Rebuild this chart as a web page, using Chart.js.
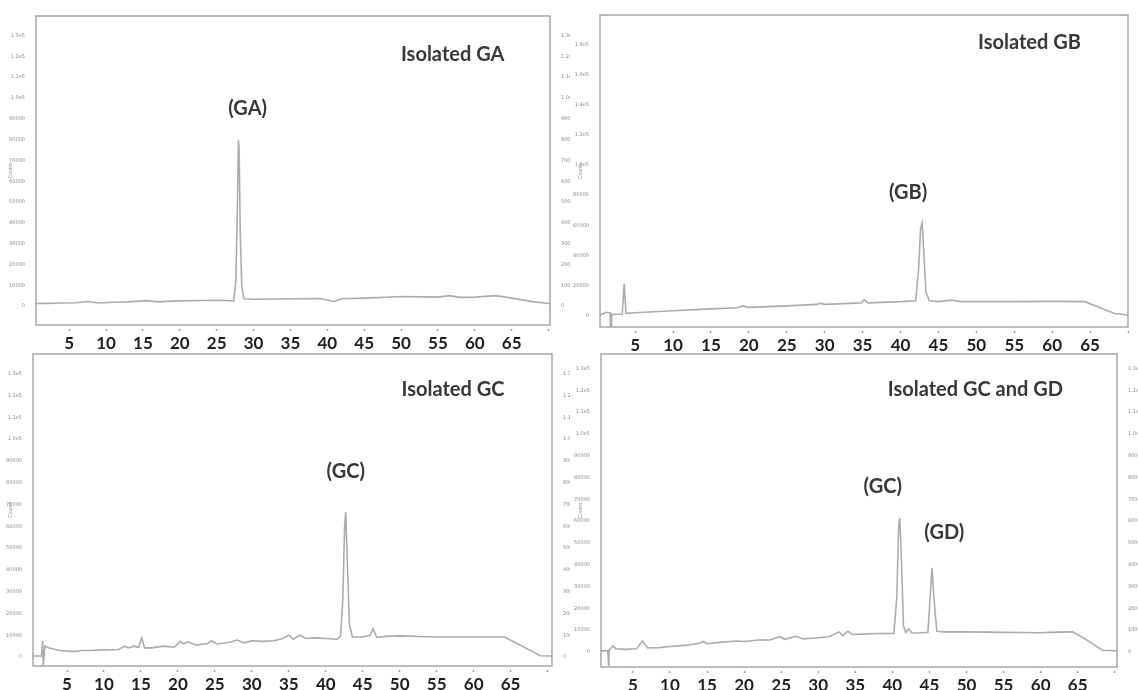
<!DOCTYPE html>
<html lang="en">
<head>
<meta charset="UTF-8">
<title>Isolated GA, GB, GC and GD chromatograms</title>
<script src="https://cdn.jsdelivr.net/npm/chart.js@4.4.1/dist/chart.umd.min.js"></script>
<style>
  body { margin: 0; background: #fff; }
  canvas { position: absolute; }
</style>
</head>
<body>
<canvas id="c1" width="570" height="357" style="left:0;top:0"></canvas>
<canvas id="c2" width="568" height="357" style="left:570px;top:0"></canvas>
<canvas id="c3" width="570" height="345" style="left:0;top:345px"></canvas>
<canvas id="c4" width="568" height="345" style="left:570px;top:345px"></canvas>
<script>
// retention time (min) / detector signal
const gaTime   = [0.5, 2, 4, 6, 7.5, 9, 11, 13, 15.5, 17, 20, 23, 25, 27.3, 27.6, 27.8, 27.95, 28.05, 28.2, 28.4, 28.7, 30, 33, 36, 39, 40.9, 42, 45, 48, 50, 53, 55, 56.6, 58, 60, 62.8, 64, 66, 68, 70.2];
const gaSignal = [0.12, 0.13, 0.15, 0.16, 0.22, 0.15, 0.18, 0.2, 0.26, 0.2, 0.25, 0.27, 0.28, 0.25, 1.2, 4.5, 7.98, 7.5, 3.5, 1.0, 0.35, 0.33, 0.34, 0.35, 0.36, 0.22, 0.35, 0.38, 0.42, 0.46, 0.44, 0.43, 0.5, 0.42, 0.43, 0.5, 0.44, 0.32, 0.2, 0.12];

const gbTime   = [0.37, 1.2, 1.7, 1.75, 1.85, 1.9, 3.3, 3.55, 3.8, 5, 10, 15, 18.5, 19.2, 20, 25, 29, 29.4, 30, 34.8, 35.2, 35.7, 40, 42.0, 42.4, 42.65, 42.85, 43.05, 43.35, 43.8, 45, 46.7, 48, 55, 60, 64.3, 66, 68.2, 70];
const gbSignal = [0.03, 0.12, 0.1, -0.35, -0.35, 0.05, 0.06, 1.05, 0.08, 0.1, 0.17, 0.23, 0.27, 0.33, 0.28, 0.33, 0.38, 0.42, 0.38, 0.43, 0.53, 0.43, 0.47, 0.5, 1.6, 2.9, 3.08, 2.2, 0.8, 0.5, 0.47, 0.52, 0.47, 0.47, 0.48, 0.47, 0.3, 0.08, 0.03];

const gcTime   = [0.4, 1.55, 1.7, 1.78, 1.85, 2.0, 2.6, 4, 6, 7, 8, 10, 12, 12.8, 13.3, 14, 14.7, 15.1, 15.5, 16.5, 18, 19.5, 20.3, 20.8, 21.3, 22.5, 24, 24.5, 25.3, 27, 28, 29, 30, 31.5, 33, 34.2, 35, 35.6, 36.5, 37.3, 38.5, 40, 41.5, 42.0, 42.3, 42.55, 42.7, 42.9, 43.2, 43.6, 45, 46.0, 46.4, 46.9, 48, 50, 55, 60, 64.2, 66, 68, 69, 70.6];
const gcSignal = [0.05, 0.05, 0.75, -0.4, -0.4, 0.5, 0.42, 0.3, 0.25, 0.3, 0.3, 0.33, 0.35, 0.5, 0.42, 0.5, 0.45, 0.88, 0.42, 0.42, 0.5, 0.45, 0.72, 0.6, 0.7, 0.55, 0.62, 0.75, 0.6, 0.68, 0.78, 0.65, 0.75, 0.72, 0.75, 0.85, 1.0, 0.82, 1.0, 0.85, 0.88, 0.85, 0.82, 0.95, 2.6, 6.0, 6.65, 4.5, 1.5, 0.92, 0.92, 1.0, 1.3, 0.9, 0.95, 0.97, 0.92, 0.92, 0.92, 0.6, 0.25, 0.06, 0.05];

const gcgdTime   = [0.7, 1.6, 1.75, 1.8, 2.0, 2.3, 2.7, 4, 5.5, 6.3, 7, 8.5, 10, 12, 14, 14.5, 15, 17, 19, 20, 22, 23.5, 24.8, 25.5, 27, 28, 30, 31.5, 32.8, 33.3, 34, 34.6, 36, 38, 40.2, 40.6, 40.85, 41.0, 41.2, 41.5, 41.8, 42.2, 42.6, 43.5, 44.8, 45.1, 45.35, 45.6, 46.0, 47, 50, 55, 60, 61, 64.3, 66, 68.3, 70.3];
const gcgdSignal = [0.05, 0.05, -0.65, 0.1, 0.15, 0.28, 0.15, 0.12, 0.15, 0.5, 0.18, 0.2, 0.25, 0.3, 0.4, 0.48, 0.38, 0.45, 0.5, 0.48, 0.55, 0.55, 0.7, 0.58, 0.72, 0.6, 0.65, 0.7, 0.92, 0.75, 0.95, 0.8, 0.82, 0.85, 0.85, 2.5, 5.8, 6.15, 4.5, 1.2, 0.9, 1.05, 0.88, 0.87, 0.9, 2.5, 3.86, 2.5, 0.95, 0.92, 0.92, 0.9, 0.88, 0.9, 0.92, 0.6, 0.08, 0.05];

const xTickValues = [5, 10, 15, 20, 25, 30, 35, 40, 45, 50, 55, 60, 65, 70];
const xTickLabels = ['5', '10', '15', '20', '25', '30', '35', '40', '45', '50', '55', '60', '65', ''];

const yTicks14  = [0, 1, 2, 3, 4, 5, 6, 7, 8, 9, 10, 11, 12, 13];
const yLabels14 = ['0', '10000', '20000', '30000', '40000', '50000', '60000', '70000', '80000', '90000', '1.0e5', '1.1e5', '1.2e5', '1.3e5'];
const yTicks10  = [0, 1, 2, 3, 4, 5, 6, 7, 8, 9];
const yLabels10 = ['0', '20000', '40000', '60000', '80000', '1.0e5', '1.2e5', '1.4e5', '1.6e5', '1.8e5'];

const panels = [
  { id: 'c1', time: gaTime, signal: gaSignal, xMin: 0.5, xMax: 70.2, yMin: -0.91, yMax: 13.94,
    yTicks: yTicks14, yLabels: yLabels14, area: { left: 36, right: 550, top: 16, bottom: 325 },
    notes: [{ text: 'Isolated GA', x: 57, y: 12.07 }, { text: '(GA)', x: 29.2, y: 9.47 }] },
  { id: 'c2', time: gbTime, signal: gbSignal, xMin: 0.37, xMax: 70, yMin: -0.37, yMax: 9.97,
    yTicks: yTicks10, yLabels: yLabels10, area: { left: 30, right: 558, top: 15, bottom: 327 },
    notes: [{ text: 'Isolated GB', x: 57, y: 9.07 }, { text: '(GB)', x: 41, y: 4.1 }] },
  { id: 'c3', time: gcTime, signal: gcSignal, xMin: 0.4, xMax: 70.6, yMin: -0.41, yMax: 13.9,
    yTicks: yTicks14, yLabels: yLabels14, area: { left: 33, right: 552, top: 9, bottom: 321 },
    notes: [{ text: 'Isolated GC', x: 57.2, y: 12.25 }, { text: '(GC)', x: 42.7, y: 8.49 }] },
  { id: 'c4', time: gcgdTime, signal: gcgdSignal, xMin: 0.7, xMax: 70.3, yMin: -0.69, yMax: 13.67,
    yTicks: yTicks14, yLabels: yLabels14, area: { left: 31, right: 547, top: 9, bottom: 322 },
    notes: [{ text: 'Isolated GC and GD', x: 51.2, y: 12.06 }, { text: '(GC)', x: 38.7, y: 7.6 }, { text: '(GD)', x: 47, y: 5.5 }] }
];

const framePlugin = {
  id: 'frame',
  beforeDatasetsDraw(chart) {
    const a = chart.chartArea, ctx = chart.ctx;
    ctx.save();
    ctx.strokeStyle = '#a6a6a6';
    ctx.lineWidth = 1.5;
    ctx.strokeRect(a.left, a.top, a.right - a.left, a.bottom - a.top);
    ctx.restore();
  },
  afterDraw(chart, args, opts) {
    const ctx = chart.ctx;
    ctx.save();
    ctx.fillStyle = '#383838';
    ctx.font = 'bold 20px Lato';
    ctx.textAlign = 'center';
    ctx.textBaseline = 'middle';
    opts.notes.forEach(n => {
      ctx.fillText(n.text, chart.scales.x.getPixelForValue(n.x), chart.scales.y.getPixelForValue(n.y));
    });
    ctx.restore();
  }
};

panels.forEach(p => {
  const canvas = document.getElementById(p.id);
  const W = canvas.width, H = canvas.height;
  const tinyTicks = {
    padding: 3, color: '#8a8a8a', autoSkip: false,
    font: { family: 'DejaVu Sans', size: 5 },
    callback: (v, i) => p.yLabels[i]
  };
  new Chart(canvas, {
    type: 'line',
    data: {
      datasets: [{
        data: p.time.map((t, i) => ({ x: t, y: p.signal[i] })),
        borderColor: '#acacac',
        borderWidth: 1.6,
        pointRadius: 0,
        tension: 0,
        fill: false
      }]
    },
    options: {
      responsive: false,
      animation: false,
      devicePixelRatio: 1,
      layout: { padding: { top: p.area.top, left: 0, right: 0, bottom: 0 } },
      plugins: {
        legend: { display: false },
        tooltip: { enabled: false },
        frame: { notes: p.notes }
      },
      scales: {
        x: {
          type: 'linear', min: p.xMin, max: p.xMax,
          afterBuildTicks: s => { s.ticks = xTickValues.map(v => ({ value: v })); },
          afterFit: s => { s.height = H - p.area.bottom; },
          border: { display: false },
          grid: { drawOnChartArea: false, tickLength: 7, tickWidth: 1.5, tickColor: '#9a9a9a', tickBorderDash: [0, 4, 2, 20] },
          ticks: {
            autoSkip: false, maxRotation: 0, padding: 1, color: '#1e1e1e',
            font: { family: 'Lato', weight: 'bold', size: 17 },
            callback: (v, i) => xTickLabels[i]
          }
        },
        y: {
          position: 'left', min: p.yMin, max: p.yMax,
          afterBuildTicks: s => { s.ticks = p.yTicks.map(v => ({ value: v })); },
          afterFit: s => { s.width = p.area.left; },
          border: { display: false },
          grid: { display: false },
          ticks: tinyTicks,
          title: { display: true, text: 'Counts', color: '#9a9a9a', font: { size: 5 }, padding: { top: 8 } }
        },
        y2: {
          position: 'right', min: p.yMin, max: p.yMax,
          afterBuildTicks: s => { s.ticks = p.yTicks.map(v => ({ value: v })); },
          afterFit: s => { s.width = W - p.area.right; },
          border: { display: false },
          grid: { display: false },
          ticks: tinyTicks
        }
      }
    },
    plugins: [framePlugin]
  });
});
</script>
</body>
</html>
